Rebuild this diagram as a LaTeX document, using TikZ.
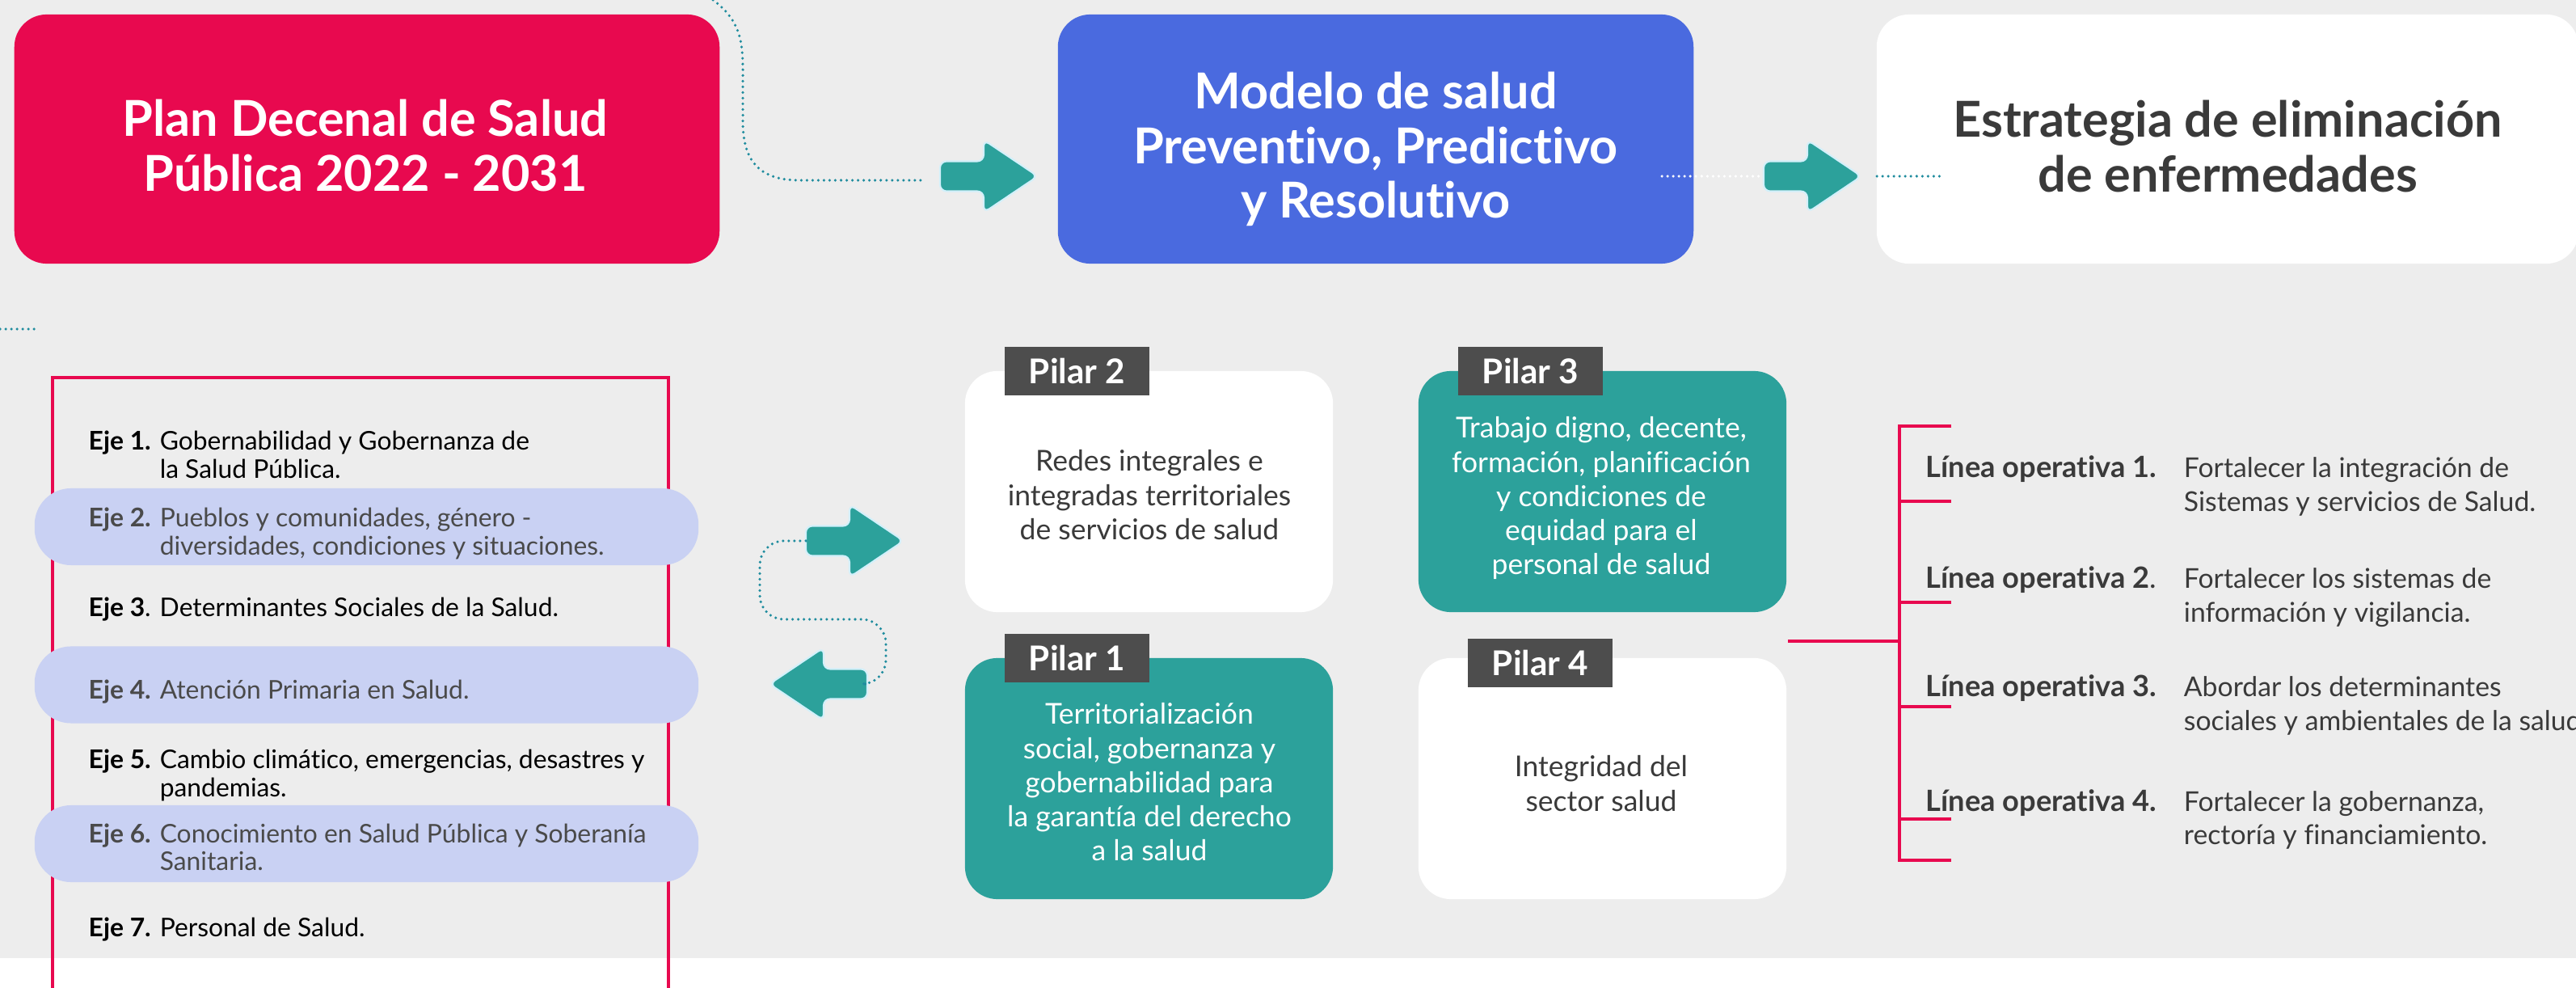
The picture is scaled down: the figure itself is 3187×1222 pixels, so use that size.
\documentclass[tikz,border=0pt]{standalone}
\usepackage{fontspec}
\setmainfont{Lato}[Ligatures=NoCommon]

\definecolor{fondo}{HTML}{EDEDED}
\definecolor{rojo}{HTML}{E8094F}
\definecolor{azul}{HTML}{4A6ADF}
\definecolor{verde}{HTML}{2CA19B}
\definecolor{punto}{HTML}{1F8C9E}
\definecolor{lila}{HTML}{C9D1F3}
\definecolor{gris}{HTML}{4D4D4D}
\definecolor{texto}{HTML}{3A3A3A}
\definecolor{tenue}{HTML}{4A4A4A}
\definecolor{brillo}{HTML}{D2F0FA}

\newcommand{\lineas}[1]{\begin{tabular}[t]{@{}c@{}}#1\end{tabular}}
\newcommand{\ejedos}[3]{\begin{tabular}[t]{@{}l@{}l@{}}\makebox[0.88cm][l]{#1}&#2\\&#3\end{tabular}}
\newcommand{\ejeuno}[2]{\makebox[0.88cm][l]{#1}#2}
\newcommand{\lineaop}[3]{\begin{tabular}[t]{@{}l@{}l@{}}\makebox[3.19cm][l]{\fontsize{10.3}{11.7}\selectfont #1}&#2\\&#3\end{tabular}}

\begin{document}
\begin{tikzpicture}
[x=0.01cm,y=-0.01cm,
titulo/.style={rounded corners=0.4cm,minimum height=3.08cm},
titfont/.style={font=\bfseries\fontsize{17.4}{19.1}\selectfont},
pilar/.style={rounded corners=0.4cm,minimum width=4.55cm,minimum height=2.98cm},
etiqueta/.style={fill=gris,text=white,inner sep=0pt,minimum width=1.79cm,minimum height=0.6cm,font=\bfseries\fontsize{12}{13}\selectfont},
pildora/.style={fill=lila,rounded corners=0.45cm,minimum width=8.21cm,minimum height=0.95cm},
txt/.style={anchor=base,inner sep=0pt},
pilartxt/.style={txt,font=\fontsize{10.1}{11.95}\selectfont},
ejetxt/.style={anchor=base west,inner sep=0pt,font=\fontsize{9.05}{9.7}\selectfont},
lineatxt/.style={anchor=base west,inner sep=0pt,text=texto,font=\fontsize{9.6}{11.7}\selectfont},
puntos/.style={punto,line width=1pt,line cap=round,dash pattern=on 0pt off 2pt},
flecha/.pic={
\fill[verde,draw=brillo,line width=0.6pt,rounded corners=0.08cm]
(0,-18.5) -- (54,-18.5) -- (54,-45) -- (121,0) -- (54,45) -- (54,18.5) -- (0,18.5) -- cycle;
\coordinate (-cola) at (0,0);}]
\useasboundingbox (0,0) rectangle (3187,1222);
\fill[fondo] (0,0) rectangle (3187,1185);
\fill[white] (0,1185) rectangle (3187,1222);

% fila superior
\node[titulo,fill=rojo,minimum width=8.72cm] (plan) at (454,172) {};
\node[titulo,fill=azul,minimum width=7.86cm] (modelo) at (1702,172) {};
\node[titulo,fill=white,minimum width=8.68cm] (estrategia) at (2756,172) {};
\node[txt,titfont,text=white] (plantxt) at (452,169) {\lineas{Plan Decenal de Salud\\Pública 2022 - 2031}};
\node[txt,titfont,text=white] (modelotxt) at (1702,135) {\lineas{Modelo de salud\\Preventivo, Predictivo\\y Resolutivo}};
\node[txt,titfont,text=texto] (estrtxt) at (2756,170) {\lineas{Estrategia de eliminación\\de enfermedades}};

\coordinate (entrada) at (882,0);
\coordinate (llegada) at (1140,223);
\coordinate (m1) at (2056,218);
\coordinate (m2) at (2177,218);
\coordinate (s1) at (2322,218);
\coordinate (s2) at (2400,218);
\coordinate (iz1) at (0,407);
\coordinate (iz2) at (43,407);
\draw[puntos] (entrada) .. controls (912,22) and (919,45) .. (919,85) -- (919,150)
  .. controls (919,200) and (940,223) .. (990,223) -- (llegada);
\draw[puntos,white] (m1) -- (m2);
\draw[puntos] (s1) -- (s2);
\draw[puntos] (iz1) -- (iz2);
\pic (fl1) at (1163,218) {flecha};
\pic (fl2) at (2182,218) {flecha};

% ejes
\draw[rojo,line width=0.9pt] (65,1240) -- (65,467) -- (827,467) -- (827,1240);
\foreach \y/\n in {651.5/2,847/4,1043.5/6}
\node[pildora] (pil\n) at (453.5,\y) {};
\node[ejetxt] (e1) at (109,557) {\ejedos{\textbf{Eje 1.}}{Gobernabilidad y Gobernanza de}{la Salud Pública.}};
\node[ejetxt,text=tenue] (e2) at (109,652) {\ejedos{\textbf{Eje 2.}}{Pueblos y comunidades, género -}{diversidades, condiciones y situaciones.}};
\node[ejetxt] (e3) at (109,763) {\ejeuno{\textbf{Eje 3}.}{Determinantes Sociales de la Salud.}};
\node[ejetxt,text=tenue] (e4) at (109,864) {\ejeuno{\textbf{Eje 4.}}{Atención Primaria en Salud.}};
\node[ejetxt] (e5) at (109,951) {\ejedos{\textbf{Eje 5.}}{Cambio climático, emergencias, desastres y}{pandemias.}};
\node[ejetxt,text=tenue] (e6) at (109,1042) {\ejedos{\textbf{Eje 6.}}{Conocimiento en Salud Pública y Soberanía}{Sanitaria.}};
\node[ejetxt] (e7) at (109,1158) {\ejeuno{\textbf{Eje 7.}}{Personal de Salud.}};

% flechas de ida y vuelta
\pic (fl3) at (997,669) {flecha};
\pic[xscale=-1] (fl4) at (1073,846) {flecha};
\draw[puntos,rounded corners=0.3cm] (fl3-cola) -- (940,669) -- (940,766) -- (1096,766) -- (1096,846) -- (fl4-cola);

% pilares
\node[pilar,fill=white] (p2) at (1421.5,608) {};
\node[pilar,fill=verde] (p3) at (1982.5,608) {};
\node[pilar,fill=verde] (p1) at (1421.5,963) {};
\node[pilar,fill=white] (p4) at (1982.5,963) {};
\node[etiqueta] (l2) at (1332.5,459) {Pilar 2};
\node[etiqueta] (l3) at (1893.5,459) {Pilar 3};
\node[etiqueta] (l1) at (1332.5,814) {Pilar 1};
\node[etiqueta] (l4) at (1905.5,820) {Pilar 4};
\node[pilartxt,text=texto] (t2) at (1422,583) {\lineas{Redes integrales e\\integradas territoriales\\de servicios de salud}};
\node[pilartxt,text=white] (t3) at (1981,542) {\lineas{Trabajo digno, decente,\\formación, planificación\\y condiciones de\\equidad para el\\personal de salud}};
\node[pilartxt,text=white] (t1) at (1422,896) {\lineas{Territorialización\\social, gobernanza y\\gobernabilidad para\\la garantía del derecho\\a la salud}};
\node[pilartxt,text=texto] (t4) at (1981,961) {\lineas{Integridad del\\sector salud}};

% lineas operativas
\coordinate (rama) at (2212,793);
\draw[rojo,line width=0.9pt] (rama) -- (2350,793);
\draw[rojo,line width=0.9pt] (2414,527) -- (2350,527) -- (2350,1064) -- (2414,1064);
\foreach \y in {620,745,874,1013}
\draw[rojo,line width=0.9pt] (2350,\y) -- (2414,\y);
\node[lineatxt] (o1) at (2382,591) {\lineaop{\textbf{Línea operativa 1.}}{Fortalecer la integración de}{Sistemas y servicios de Salud.}};
\node[lineatxt] (o2) at (2382,728) {\lineaop{\textbf{Línea operativa 2}.}{Fortalecer los sistemas de}{información y vigilancia.}};
\node[lineatxt] (o3) at (2382,862) {\lineaop{\textbf{Línea operativa 3.}}{Abordar los determinantes}{sociales y ambientales de la salud.}};
\node[lineatxt] (o4) at (2382,1003) {\lineaop{\textbf{Línea operativa 4.}}{Fortalecer la gobernanza,}{rectoría y financiamiento.}};
\end{tikzpicture}
\end{document}
